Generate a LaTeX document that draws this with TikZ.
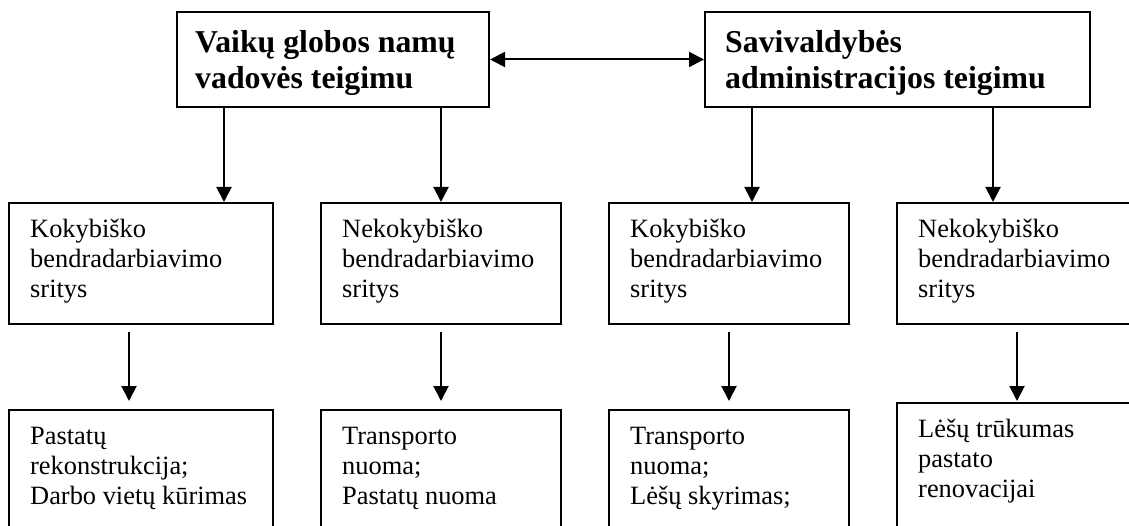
\documentclass[tikz,border=0pt]{standalone}
\usepackage{fontspec}
\setmainfont{Liberation Serif}
\usetikzlibrary{arrows.meta,calc}
\begin{document}
\begin{tikzpicture}[x=1pt,y=-1pt,
  box/.style={draw, line width=2pt, inner sep=0pt, rectangle},
  arr/.style={line width=2pt, -{Triangle[length=15pt,width=15pt]}},
  dbl/.style={line width=2pt, {Triangle[length=15pt,width=15pt]}-{Triangle[length=15pt,width=15pt]}},
  hd/.style={font=\fontsize{31.8}{36}\selectfont\bfseries, inner sep=0pt, anchor=base west},
  tx/.style={font=\fontsize{26.4}{30}\selectfont, inner sep=0pt, anchor=base west}]
\useasboundingbox (0,0) rectangle (1129,526);
\clip (0,0) rectangle (1129,526);
% top boxes
\node[box, minimum width=312pt, minimum height=95pt] (T1) at (333,59.5) {};
\node[box, minimum width=385pt, minimum height=95pt] (T2) at (897.5,59.5) {};
% middle boxes
\node[box, minimum width=264pt, minimum height=121pt] (M1) at (141,263.5) {};
\node[box, minimum width=240pt, minimum height=121pt] (M2) at (441,263.5) {};
\node[box, minimum width=240pt, minimum height=121pt] (M3) at (729,263.5) {};
\node[box, minimum width=240pt, minimum height=121pt] (M4) at (1017,263.5) {};
% bottom boxes
\node[box, minimum width=264pt, minimum height=150pt] (B1) at (141,485) {};
\node[box, minimum width=240pt, minimum height=150pt] (B2) at (441,485) {};
\node[box, minimum width=240pt, minimum height=150pt] (B3) at (729,485) {};
\node[box, minimum width=240pt, minimum height=157pt] (B4) at (1017,481.5) {};
% texts
\node[hd] (h1) at ($(T1.north west)+(19,42)$) {\begin{tabular}[t]{@{}l@{}}Vaikų globos namų\\vadovės teigimu\end{tabular}};
\node[hd] (h2) at ($(T2.north west)+(21,42)$) {\begin{tabular}[t]{@{}l@{}}Savivaldybės\\administracijos teigimu\end{tabular}};
\node[tx] (m1t) at ($(M1.north west)+(22,36)$) {\begin{tabular}[t]{@{}l@{}}Kokybiško\\bendradarbiavimo\\sritys\end{tabular}};
\node[tx] (m2t) at ($(M2.north west)+(22,36)$) {\begin{tabular}[t]{@{}l@{}}Nekokybiško\\bendradarbiavimo\\sritys\end{tabular}};
\node[tx] (m3t) at ($(M3.north west)+(22,36)$) {\begin{tabular}[t]{@{}l@{}}Kokybiško\\bendradarbiavimo\\sritys\end{tabular}};
\node[tx] (m4t) at ($(M4.north west)+(22,36)$) {\begin{tabular}[t]{@{}l@{}}Nekokybiško\\bendradarbiavimo\\sritys\end{tabular}};
\node[tx] (b1t) at ($(B1.north west)+(22,35)$) {\begin{tabular}[t]{@{}l@{}}Pastatų\\rekonstrukcija;\\Darbo vietų kūrimas\end{tabular}};
\node[tx] (b2t) at ($(B2.north west)+(22,35)$) {\begin{tabular}[t]{@{}l@{}}Transporto\\nuoma;\\Pastatų nuoma\end{tabular}};
\node[tx] (b3t) at ($(B3.north west)+(22,35)$) {\begin{tabular}[t]{@{}l@{}}Transporto\\nuoma;\\Lėšų skyrimas;\end{tabular}};
\node[tx] (b4t) at ($(B4.north west)+(22,35)$) {\begin{tabular}[t]{@{}l@{}}Lėšų trūkumas\\pastato\\renovacijai\end{tabular}};
% connectors
\draw[dbl] (T1.east) -- (T2.west);
\draw[arr] ([xshift=48pt]T1.south west) -- ([xshift=48pt]T1.south west |- M1.north);
\draw[arr] (T1.south -| M2.north) -- (M2.north);
\draw[arr] ([xshift=48pt]T2.south west) -- ([xshift=48pt]T2.south west |- M3.north);
\draw[arr] ([xshift=-24pt]M4.north |- T2.south) -- ([xshift=-24pt]M4.north);
\draw[arr, shorten <=7pt, shorten >=8pt] ([xshift=-12pt]M1.south) -- ([xshift=-12pt]B1.north);
\draw[arr, shorten <=7pt, shorten >=8pt] (M2.south) -- (B2.north);
\draw[arr, shorten <=7pt, shorten >=8pt] (M3.south) -- (B3.north);
\draw[arr, shorten <=7pt, shorten >=1pt] (M4.south) -- (B4.north);
\end{tikzpicture}
\end{document}
